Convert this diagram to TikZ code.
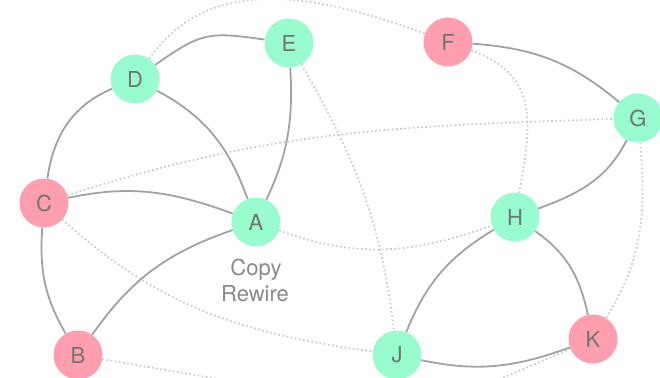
\documentclass[tikz,border=0pt]{standalone}
\usepackage{fontspec}
\setmainfont{TeX Gyre Heros}
\definecolor{mint}{HTML}{98FCCF}
\definecolor{rose}{HTML}{FF9EAF}
\definecolor{letter}{HTML}{6E7673}
\definecolor{caption}{HTML}{8A8A8A}
\definecolor{linkgray}{HTML}{A2A2A2}
\definecolor{dotgray}{HTML}{C8C8C8}
\begin{document}
\begin{tikzpicture}[x=1pt,y=1pt,
  vert/.style={circle,minimum size=49pt,inner sep=0pt,
    font=\fontsize{22}{26}\selectfont,text=letter},
  gnode/.style={vert,fill=mint},
  pnode/.style={vert,fill=rose},
  link/.style={draw=linkgray,line width=1.8pt},
  ghost/.style={draw=dotgray,line width=1.7pt,dash pattern=on 1.6pt off 2.6pt},
  tag/.style={anchor=base,font=\fontsize{22}{26}\selectfont,text=caption}]
\useasboundingbox (0,0) rectangle (660,377);
\clip (0,0) rectangle (660,377);

% vertices
\node[gnode] (D) at (135,298) {D};
\node[gnode] (E) at (289,334) {E};
\node[pnode] (F) at (448,335) {F};
\node[gnode] (G) at (638,259) {G};
\node[pnode] (C) at (44,174)  {C};
\node[gnode] (A) at (256,155) {A};
\node[gnode] (H) at (515,160) {H};
\node[pnode] (B) at (78,22)   {B};
\node[gnode] (J) at (397,22)  {J};
\node[pnode] (K) at (593,38)  {K};

% label under A
\node[tag] (copy) at (256,101) {Copy};
\node[tag] (rewire) at (255,75) {Rewire};

% loose ends leaving the frame
\coordinate (bout) at (300,-16);
\coordinate (kout) at (440,-28);

% rewired (dotted) edges
\draw[ghost] (D) to[out=55,in=160] (F);
\draw[ghost] (E) to[out=300,in=97] (J);
\draw[ghost] (C) to[out=18,in=182] (G);
\draw[ghost] (C) to[out=-42,in=172] (J);
\draw[ghost] (A) to[out=-20,in=200] (H);
\draw[ghost] (F) to[out=-20,in=80,looseness=1.23] (H);
\draw[ghost] (G) to[out=275,in=58] (K);
\draw[ghost] (B) -- (bout);
\draw[ghost] (K) -- (kout);

% solid edges
\draw[link] (D) to[out=35,in=172,looseness=1.3] (E);
\draw[link] (D) to[out=203,in=82] (C);
\draw[link] (D) to[out=332,in=110] (A);
\draw[link] (E) to[out=273,in=65] (A);
\draw[link] (C) to[out=12,in=160] (A);
\draw[link] (C) to[out=266,in=120] (B);
\draw[link] (A) to[out=199,in=55] (B);
\draw[link] (F) to[out=-4,in=140] (G);
\draw[link] (G) to[out=243,in=20] (H);
\draw[link] (H) to[out=211,in=68] (J);
\draw[link] (H) to[out=325,in=102] (K);
\draw[link] (J) to[out=-12,in=200] (K);
\end{tikzpicture}
\end{document}
